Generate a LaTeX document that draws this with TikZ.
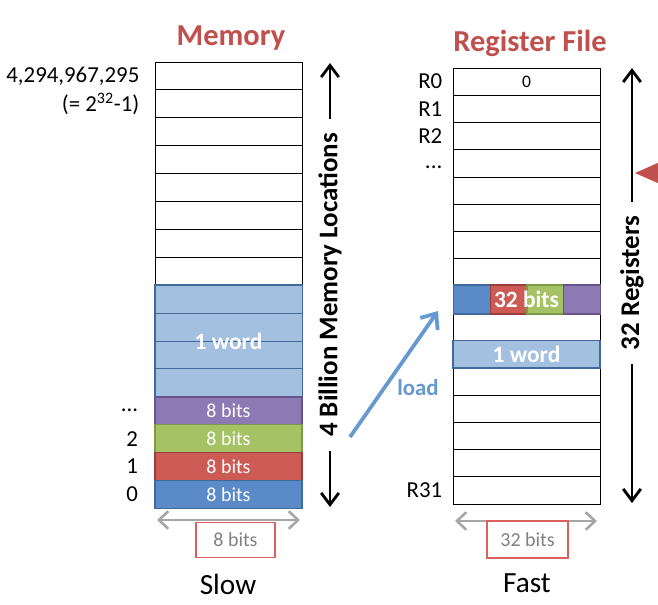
\documentclass[tikz,border=0pt]{standalone}
\usepackage{fontspec}
\setmainfont{Carlito}
\usetikzlibrary{arrows.meta,positioning}
\definecolor{titleRed}{HTML}{C0504D}
\definecolor{byteBlue}{HTML}{5A8BC8}
\definecolor{byteBlueDark}{HTML}{3F6A9E}
\definecolor{byteRed}{HTML}{CC5A55}
\definecolor{byteRedDark}{HTML}{9A3E3B}
\definecolor{byteGreen}{HTML}{A5C265}
\definecolor{byteGreenDark}{HTML}{7E9A48}
\definecolor{bytePurple}{HTML}{8D79B4}
\definecolor{bytePurpleDark}{HTML}{65558A}
\definecolor{wordBlue}{HTML}{A4C0E0}
\definecolor{wordEdge}{HTML}{41699A}
\definecolor{loadBlue}{HTML}{6699CF}
\definecolor{sizeGray}{HTML}{A6A6A6}
\definecolor{boxRed}{HTML}{D9625E}
\tikzstyle{titleStyle}=[font = \fontsize{26}{28}\selectfont\bfseries, text = titleRed]
\tikzstyle{memCell}=[shape = rectangle, draw, line width = 0.8pt, minimum width = 4.41cm, minimum height = 0.837cm, inner sep = 0pt]
\tikzstyle{regCell}=[shape = rectangle, draw, line width = 0.8pt, minimum width = 4.41cm, minimum height = 0.8175cm, inner sep = 0pt]
\tikzstyle{wordCell}=[fill = wordBlue, draw = wordEdge]
\tikzstyle{byteCell}=[text = white, font = \fontsize{17}{18}\selectfont, line width = 1.2pt]
\tikzstyle{segCell}=[shape = rectangle, minimum width = 1.1cm, minimum height = 0.87cm, inner sep = 0pt, line width = 1.2pt]
\tikzstyle{wordText}=[text = white, font = \fontsize{20}{22}\selectfont\bfseries]
\tikzstyle{idxLabel}=[inner sep = 0pt, font = \fontsize{19.5}{21}\selectfont]
\tikzstyle{sideText}=[rotate = 90, fill = white, inner sep = 12pt, font = \fontsize{23}{25}\selectfont\bfseries]
\tikzstyle{spanArrow}=[line width = 2.4pt, -{Straight Barb[length = 10pt, width = 15pt]}]
\tikzstyle{widthArrow}=[line width = 2.2pt, draw = sizeGray, {Straight Barb[length = 8pt, width = 15pt]}-{Straight Barb[length = 8pt, width = 15pt]}]
\tikzstyle{sizeBox}=[shape = rectangle, draw = boxRed, line width = 1.3pt, text = gray, font = \fontsize{17}{18}\selectfont]
\tikzstyle{speedText}=[font = \fontsize{25}{27}\selectfont]

\begin{document}
\begin{tikzpicture}[x = 0.03cm, y = -0.03cm]
\useasboundingbox[fill = white] (0,0) rectangle (658,605);
\node[titleStyle] (memTitle) at (231,38) {Memory};
\node[titleStyle] (regTitle) at (530,43) {Register File};
\foreach \i in {0,...,7} {\node[memCell] (m\i) at (228.5,{75.95+27.9*\i}) {};}
\foreach \i in {8,...,11} {\node[memCell, wordCell] (m\i) at (228.5,{75.95+27.9*\i}) {};}
\draw[wordEdge, line width = 1.5pt] (m8.north west) rectangle (m11.south east);
\node[wordText] (memWord) at (m9.south) {1 word};
\node[memCell, byteCell, fill = bytePurple, draw = bytePurpleDark] (m12) at (228.5,{75.95+27.9*12}) {8 bits};
\node[memCell, byteCell, fill = byteGreen, draw = byteGreenDark] (m13) at (228.5,{75.95+27.9*13}) {8 bits};
\node[memCell, byteCell, fill = byteRed, draw = byteRedDark] (m14) at (228.5,{75.95+27.9*14}) {8 bits};
\node[memCell, byteCell, fill = byteBlue, draw = byteBlueDark] (m15) at (228.5,{75.95+27.9*15}) {8 bits};
\node[idxLabel, left = 0.45cm of m0] (maxAddr) {4,294,967,295};
\node[idxLabel, left = 0.45cm of m1] (maxPow) {(= 2\textsuperscript{32}-1)};
\node[idxLabel, left = 0.48cm of m12] (dotsAddr) {...};
\node[idxLabel, left = 0.48cm of m13] (addr2) {2};
\node[idxLabel, left = 0.48cm of m14] (addr1) {1};
\node[idxLabel, left = 0.48cm of m15] (addr0) {0};
\node[regCell, font = \fontsize{15}{16}\selectfont] (r0) at (526.5,81.6) {0};
\foreach \i in {1,...,15} {\node[regCell] (r\i) at (526.5,{81.6+27.25*\i}) {};}
\node[segCell, fill = byteBlue, draw = byteBlueDark] (seg0) at (471.9,299.6) {};
\node[segCell, fill = byteRed, draw = byteRedDark] (seg1) at (508.6,299.6) {};
\node[segCell, fill = byteGreen, draw = byteGreenDark] (seg2) at (545.4,299.6) {};
\node[segCell, fill = bytePurple, draw = bytePurpleDark] (seg3) at (582.1,299.6) {};
\node[wordText] (regBits) at (r8) {32 bits};
\node[regCell, wordCell, line width = 1.5pt, text = white, font = \fontsize{20}{22}\selectfont\bfseries] (regWord) at (r10) {1 word};
\node[idxLabel, left = 0.3cm of r0] (lblR0) {R0};
\node[idxLabel, left = 0.3cm of r1] (lblR1) {R1};
\node[idxLabel, left = 0.3cm of r2] (lblR2) {R2};
\node[idxLabel, left = 0.3cm of r3, yshift = -3pt] (lblDots) {...};
\node[idxLabel, left = 0.3cm of r15] (lblR31) {R31};
\node[sideText] (memSpan) at (330,285) {4 Billion Memory Locations};
\coordinate (memTop) at (330,63);
\coordinate (memBot) at (330,507);
\draw[spanArrow] (memSpan) -- (memTop);
\draw[spanArrow] (memSpan) -- (memBot);
\node[sideText] (regSpan) at (632,283) {32 Registers};
\coordinate (regTop) at (632,68);
\coordinate (regBot) at (632,503);
\draw[spanArrow] (regSpan) -- (regTop);
\draw[spanArrow] (regSpan) -- (regBot);
\fill[titleRed] (635,173) -- (660,162) -- (660,184) -- cycle;
\coordinate (loadFrom) at (350,437);
\coordinate (loadTo) at (438,311);
\draw[loadBlue, line width = 3.2pt, -{Straight Barb[length = 11pt, width = 18pt]}] (loadFrom) -- (loadTo);
\node[text = loadBlue, font = \fontsize{19.5}{21}\selectfont\bfseries] (loadLbl) at (418,388) {load};
\coordinate (memLeft) at (157,520);
\coordinate (memRight) at (300,520);
\draw[widthArrow] (memLeft) -- (memRight);
\node[sizeBox, minimum width = 2.37cm, minimum height = 1.05cm] (memSize) at (235.5,540) {8 bits};
\node[speedText] (memSpeed) at (228,584) {Slow};
\coordinate (regLeft) at (455,521);
\coordinate (regRight) at (597,521);
\draw[widthArrow] (regLeft) -- (regRight);
\node[sizeBox, minimum width = 2.43cm, minimum height = 1.1cm] (regSize) at (527.5,539.5) {32 bits};
\node[speedText] (regSpeed) at (527,583) {Fast};
\end{tikzpicture}
\end{document}
